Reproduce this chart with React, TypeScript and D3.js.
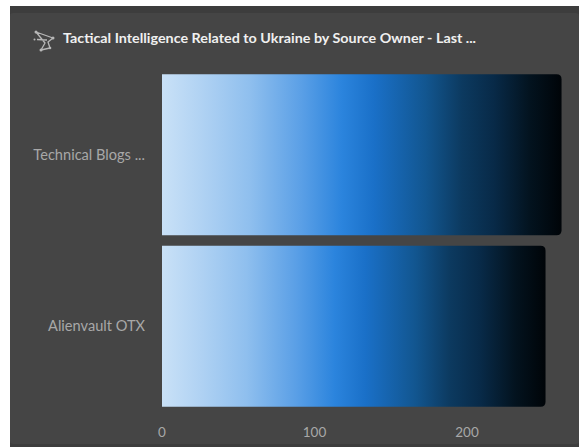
import React from "react";
import * as d3 from "d3";

const categories = ["Technical Blogs ...", "Alienvault OTX"];
const values = [262, 251.5];
const xTicks = [0, 100, 200];
const title = "Tactical Intelligence Related to Ukraine by Source Owner - Last ...";
const stops: [string, string][] = [
  ["0%", "#c9e1f7"],
  ["10%", "#b0d2f3"],
  ["22%", "#8fbfee"],
  ["35%", "#5a9fe6"],
  ["45%", "#2b84dd"],
  ["53%", "#1a70c8"],
  ["66%", "#125690"],
  ["75%", "#0c3a60"],
  ["83%", "#082a48"],
  ["92%", "#03131f"],
  ["100%", "#000408"],
];

const font = "Lato, 'Open Sans', sans-serif";

export default function App() {
  const x = d3.scaleLinear().domain([0, 200]).range([162, 467]);
  const y = d3.scaleBand().domain(categories).range([69, 412]).paddingInner(0.06).paddingOuter(0.03);
  const r = 5;
  const barPath = (w: number, y0: number, h: number) => {
    const p = d3.path();
    const x0 = x(0);
    p.moveTo(x0, y0);
    p.lineTo(x0 + w - r, y0);
    p.quadraticCurveTo(x0 + w, y0, x0 + w, y0 + r);
    p.lineTo(x0 + w, y0 + h - r);
    p.quadraticCurveTo(x0 + w, y0 + h, x0 + w - r, y0 + h);
    p.lineTo(x0, y0 + h);
    p.closePath();
    return p.toString();
  };
  return (
    <svg width={579} height={447} style={{ position: "absolute", left: 0, top: 0, display: "block" }}>
      <rect width={579} height={447} fill="#ffffff" />
      <rect x={10} y={6} width={569} height={441} fill="#3d3d3d" />
      <rect x={10} y={13} width={569} height={431} rx={3} fill="#454545" />
      <defs>
        {categories.map((c, i) => (
          <linearGradient key={c} id={`g${i}`} gradientUnits="objectBoundingBox" x1="0" x2="1" y1="0" y2="0">
            {stops.map(([o, col]) => (
              <stop key={o} offset={o} stopColor={col} />
            ))}
          </linearGradient>
        ))}
      </defs>
      <g fill="none" stroke="#b8b8b8" strokeWidth={1.3} strokeLinejoin="round">
        <path d="M36 32 L53 38 L48 42 L50 48 L41 50 L45 43 Z M37 39.5 L47 40" />
        <circle cx={36} cy={32} r={1.5} fill="#b8b8b8" stroke="none" />
        <circle cx={53} cy={38} r={1.5} fill="#b8b8b8" stroke="none" />
        <circle cx={41} cy={50} r={1.5} fill="#b8b8b8" stroke="none" />
        <circle cx={50} cy={48} r={1.3} fill="#b8b8b8" stroke="none" />
        <circle cx={34.5} cy={39.5} r={1} fill="#b8b8b8" stroke="none" />
      </g>
      <text x={63} y={43} fontFamily={font} fontSize={13} fontWeight={700} fill="#f0f0f0" textLength={413} lengthAdjust="spacingAndGlyphs">
        {title}
      </text>
      {categories.map((c, i) => {
        const y0 = y(c)!;
        const h = y.bandwidth();
        return (
          <g key={c}>
            <path d={barPath(x(values[i]) - x(0), y0, h)} fill={`url(#g${i})`} />
            <text x={145} y={y0 + h / 2 + 5} textAnchor="end" fontFamily={font} fontSize={14.6} fill="#a8a8a8">
              {c}
            </text>
          </g>
        );
      })}
      {xTicks.map((t) => (
        <text key={t} x={x(t)} y={437} textAnchor="middle" fontFamily={font} fontSize={13.5} fill="#a8a8a8">
          {t}
        </text>
      ))}
    </svg>
  );
}
